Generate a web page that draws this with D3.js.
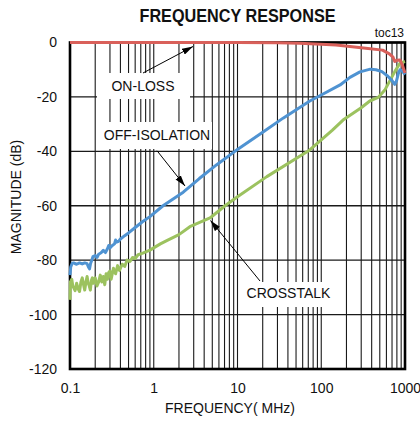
<!DOCTYPE html>
<html>
<head>
<meta charset="utf-8">
<script src="https://cdn.jsdelivr.net/npm/d3@7"></script>
<style>
  html, body { margin: 0; padding: 0; background: #fff; }
  svg { display: block; }
  text { font-family: "Liberation Sans", Arial, sans-serif; fill: #111; }
</style>
</head>
<body>
<svg id="chart" width="420" height="424"></svg>
<script>
// ---- data (MHz, dB) ----
const xTickVals = [0.1, 1, 10, 100, 1000];
const yTickVals = [0, -20, -40, -60, -80, -100, -120];

const onLossFreq = [0.1, 1, 10, 30, 55, 100, 150, 220, 340, 540, 650, 720, 755, 800, 870, 930, 1000];
const onLossDb   = [0, 0, 0, -0.1, -0.3, -0.6, -0.9, -1.5, -2.1, -2.8, -4.2, -5.4, -7.0, -6.5, -6.4, -8.3, -11.2];

const offIsoFreq = [0.1, 0.102, 0.106, 0.11, 0.12, 0.13, 0.14, 0.15, 0.16, 0.166, 0.171, 0.176, 0.182, 0.188, 0.2, 0.21, 0.22, 0.235, 0.25, 0.265, 0.28, 0.29, 0.3, 0.32, 0.34, 0.35, 0.36, 0.38, 0.4, 0.45, 0.5, 0.6, 0.74, 0.9, 1.29, 2.25, 3.5, 5.6, 9.3, 20, 35, 73, 100, 168, 220, 290, 385, 450, 530, 620, 700, 755, 790, 830, 870, 920, 1000];
const offIsoDb   = [-85.5, -82.5, -81.2, -81.0, -81.5, -81.0, -81.4, -81.0, -81.3, -82.5, -83.2, -81.2, -80.0, -78.7, -78.3, -79.0, -77.8, -77.3, -76.4, -77.2, -75.8, -74.6, -75.5, -74.6, -74.0, -72.6, -73.4, -73.1, -72.2, -71.0, -70.0, -68.0, -65.8, -64.0, -60.0, -55.0, -50.0, -45.0, -40.0, -33.0, -27.8, -21.5, -19.3, -15.6, -12.8, -10.8, -9.8, -10.0, -10.7, -12.3, -14.0, -15.4, -14.2, -11.6, -10.0, -10.3, -11.8];

const crosstalkFreq = [0.1, 0.101, 0.105, 0.108, 0.11, 0.115, 0.12, 0.125, 0.13, 0.135, 0.14, 0.145, 0.15, 0.155, 0.16, 0.165, 0.17, 0.175, 0.18, 0.185, 0.19, 0.2, 0.205, 0.21, 0.22, 0.23, 0.24, 0.25, 0.26, 0.27, 0.28, 0.29, 0.3, 0.31, 0.33, 0.35, 0.37, 0.39, 0.42, 0.45, 0.48, 0.52, 0.56, 0.6, 0.65, 0.74, 0.9, 1.2, 1.43, 2.0, 2.7, 4.7, 7.1, 10, 22.4, 73, 100, 136, 182, 300, 380, 478, 574, 755, 870, 1000];
const crosstalkDb   = [-94.6, -88.0, -87.0, -89.5, -90.0, -91.2, -88.5, -90.5, -91.5, -88.0, -86.5, -89.0, -91.0, -88.0, -86.0, -88.5, -89.5, -91.0, -87.5, -86.5, -88.5, -86.5, -88.0, -89.5, -88.0, -85.5, -88.0, -86.0, -89.0, -85.0, -87.0, -84.5, -84.0, -87.0, -83.0, -85.0, -82.0, -83.8, -81.5, -82.3, -80.0, -80.5, -79.0, -79.4, -78.0, -77.4, -76.3, -74.0, -72.8, -70.6, -67.7, -64.5, -60.0, -56.7, -49.3, -39.5, -35.8, -32.2, -28.5, -24.0, -21.5, -20.2, -17.5, -10.7, -7.6, -7.0];

const seriesNames  = ["ON-LOSS", "OFF-ISOLATION", "CROSSTALK"];
const seriesColors = ["#d9605a", "#4f93d2", "#9cc25f"];

// ---- layout ----
const svg = d3.select("#chart");
const x = d3.scaleLog().domain([0.1, 1000]).range([70, 405]);
const y = d3.scaleLinear().domain([-120, 0]).range([369, 42.5]);

// grid
const g = svg.append("g");
g.selectAll("line.v").data(x.ticks()).enter().append("line")
  .attr("x1", d => x(d)).attr("x2", d => x(d))
  .attr("y1", y(0)).attr("y2", y(-120))
  .attr("stroke", "#1a1a1a").attr("stroke-width", 1.1);
g.selectAll("line.h").data(yTickVals).enter().append("line")
  .attr("x1", x(0.1)).attr("x2", x(1000))
  .attr("y1", d => y(d)).attr("y2", d => y(d))
  .attr("stroke", "#1a1a1a").attr("stroke-width", 1.4);

// frame
svg.append("rect")
  .attr("x", x(0.1)).attr("y", y(0))
  .attr("width", x(1000) - x(0.1)).attr("height", y(-120) - y(0))
  .attr("fill", "none").attr("stroke", "#000").attr("stroke-width", 2.6);

// curves
const line = d3.line().x(d => x(d[0])).y(d => y(d[1]));
const series = [
  d3.zip(onLossFreq, onLossDb),
  d3.zip(offIsoFreq, offIsoDb),
  d3.zip(crosstalkFreq, crosstalkDb)
];
[2, 1, 0].forEach(i => {
  svg.append("path").datum(series[i])
    .attr("d", line)
    .attr("fill", "none")
    .attr("stroke", seriesColors[i])
    .attr("stroke-width", 3)
    .attr("stroke-linejoin", "round");
});

// axes labels
const xAxis = d3.axisBottom(x).tickValues(xTickVals).tickFormat(d3.format("~g")).tickSize(0).tickPadding(0);
const xa = svg.append("g").attr("transform", `translate(0,${y(-120)})`).call(xAxis);
xa.select(".domain").remove();
xa.selectAll("text").attr("font-size", 14).attr("font-family", "Liberation Sans, Arial, sans-serif")
  .attr("fill", "#111").attr("dy", null).attr("y", 24);

const yAxis = d3.axisLeft(y).tickValues(yTickVals).tickFormat(d3.format("d")).tickSize(0).tickPadding(13);
const ya = svg.append("g").attr("transform", `translate(${x(0.1)},0)`).call(yAxis);
ya.select(".domain").remove();
ya.selectAll("text").attr("font-size", 14).attr("font-family", "Liberation Sans, Arial, sans-serif")
  .attr("fill", "#111").text(d => d === 0 ? "0" : String(d).replace("−", "-"));

// titles
svg.append("text").attr("x", 237.5).attr("y", 21.5).attr("text-anchor", "middle")
  .attr("font-size", 18).attr("font-weight", "bold")
  .attr("textLength", 196).attr("lengthAdjust", "spacingAndGlyphs")
  .text("FREQUENCY RESPONSE");
svg.append("text").attr("x", 404).attr("y", 37).attr("text-anchor", "end")
  .attr("font-size", 12).text("toc13");
svg.append("text").attr("x", 230).attr("y", 413).attr("text-anchor", "middle")
  .attr("font-size", 14).text("FREQUENCY( MHz)");
svg.append("text").attr("transform", "translate(21,197) rotate(-90)").attr("text-anchor", "middle")
  .attr("font-size", 14).text("MAGNITUDE (dB)");

// arrow marker
svg.append("defs").append("marker")
  .attr("id", "ah").attr("viewBox", "0 0 10 6").attr("refX", 10).attr("refY", 3)
  .attr("markerWidth", 11).attr("markerHeight", 7).attr("markerUnits", "userSpaceOnUse")
  .attr("orient", "auto")
  .append("path").attr("d", "M0,0 L10,3 L0,6 Z").attr("fill", "#000");

// annotation boxes + labels
const labels = [
  { name: seriesNames[0], box: [97, 73, 93, 26], tx: 143, ty: 91, from: [143, 73], to: [193, 46.5] },
  { name: seriesNames[1], box: [100, 122, 112, 27], tx: 157, ty: 140, from: [157, 150.7], to: [185, 186] },
  { name: seriesNames[2], box: [243, 282, 89, 25], tx: 288.5, ty: 298, from: [260, 281], to: [210.5, 220.5] }
];
labels.forEach(l => {
  svg.append("rect").attr("x", l.box[0]).attr("y", l.box[1]).attr("width", l.box[2]).attr("height", l.box[3])
    .attr("fill", "#fff");
  svg.append("text").attr("x", l.tx).attr("y", l.ty).attr("text-anchor", "middle")
    .attr("font-size", 14).text(l.name);
  svg.append("line").attr("x1", l.from[0]).attr("y1", l.from[1]).attr("x2", l.to[0]).attr("y2", l.to[1])
    .attr("stroke", "#000").attr("stroke-width", 1).attr("marker-end", "url(#ah)");
});
</script>
</body>
</html>
